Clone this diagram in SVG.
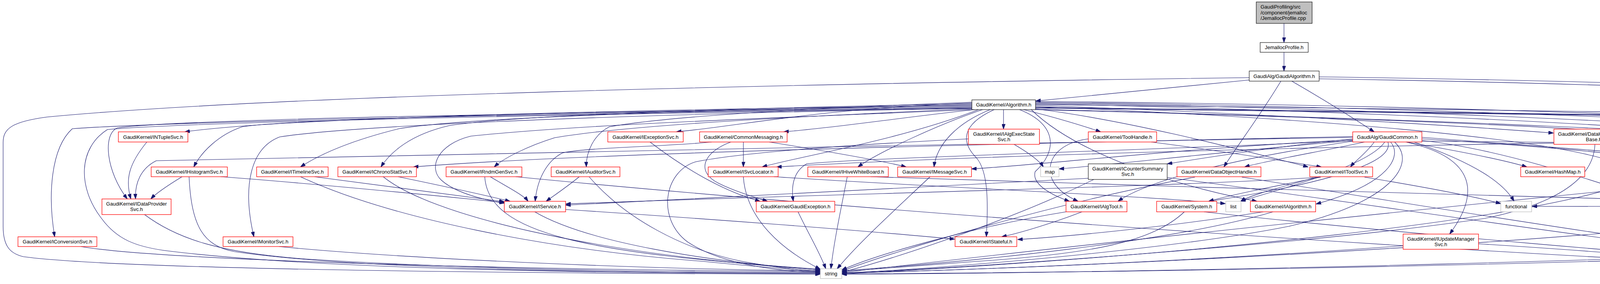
<svg xmlns="http://www.w3.org/2000/svg" width="5617" height="728" viewBox="0 0 5617 728">
<style>
.e{fill:none;stroke:#191970;stroke-width:1.1;marker-end:url(#a)}
.red{fill:#fff;stroke:#ff0000;stroke-width:1.3}
.blk{fill:#fff;stroke:#000;stroke-width:1.1}
.gry{fill:#fff;stroke:#bfbfbf;stroke-width:1.3}
.root{fill:#bfbfbf;stroke:#000;stroke-width:1.1}
text{font-family:"Liberation Sans",Arial,sans-serif;font-size:13px;fill:#000;text-anchor:middle}
text.l{text-anchor:start}
</style>
<defs>
<marker id="a" viewBox="0 0 13 9" refX="13" refY="4.5" markerWidth="13" markerHeight="9" markerUnits="userSpaceOnUse" orient="auto"><path d="M0,0 L13,4.5 L0,9 z" fill="#191970" stroke="#191970"/></marker>
</defs>
<rect width="5617" height="728" fill="#fff"/>
<g id="edges">
<path class="e" d="M3287,60 L3287,109"/>
<path class="e" d="M3287,134 L3287,182"/>
<path class="e" d="M3198,205 C3000,225 2800,245 2651,259"/>
<path class="e" d="M3307,208 C3380,250 3460,300 3518,338"/>
<path class="e" d="M3279,208 C3230,290 3170,370 3133,428"/>
<path class="e" d="M3377,197 C4000,205 5000,235 5472,257"/>
<path class="e" d="M3377,202 C4200,215 5100,250 5300,290 C5410,315 5433,330 5433,370 L5433,560 C5433,620 5380,650 5250,670 C5100,690 5000,698 4928,703"/>
<path class="e" d="M3198,199 C2000,215 700,245 120,300 C30,312 8,330 8,365 L8,580 C8,630 25,650 60,658 C300,690 1200,700 2100,703"/>
<path class="e" d="M2488,270 C1500,282 700,305 473,338"/>
<path class="e" d="M2488,272 C1500,285 750,305 620,325 C560,345 515,390 496,428"/>
<path class="e" d="M2488,274 C1400,290 450,305 300,328 C262,345 272,440 326,510"/>
<path class="e" d="M2488,276 C1400,292 420,312 185,330 C130,380 122,500 140,607"/>
<path class="e" d="M2488,278 C1600,292 900,322 716,351 C640,380 620,480 650,607"/>
<path class="e" d="M2488,277 C1400,295 500,312 275,332 C200,380 198,480 260,560 C300,615 350,632 420,642 C800,690 1500,700 2100,701"/>
<path class="e" d="M2488,268 C1800,283 1200,300 1021,330 C900,360 820,395 769,428"/>
<path class="e" d="M2488,266 C1800,278 1300,298 1150,322 C1050,345 1000,390 975,428"/>
<path class="e" d="M2488,279 C2000,300 1600,322 1420,353 C1350,375 1290,405 1265,428"/>
<path class="e" d="M2490,281 C2000,302 1500,318 1205,349 C1120,370 1095,430 1130,462 C1170,498 1250,514 1291,521"/>
<path class="e" d="M2488,264 C2100,278 1900,322 1731,338"/>
<path class="e" d="M2495,281 C2300,302 2150,326 2006,338"/>
<path class="e" d="M2488,262 C2000,280 1700,300 1560,325 C1520,345 1500,390 1501,428"/>
<path class="e" d="M2505,281 C2300,360 2050,400 1951,428"/>
<path class="e" d="M2515,281 C2400,320 2250,390 2196,428"/>
<path class="e" d="M2535,281 C2450,315 2398,370 2391,428"/>
<path class="e" d="M2569,281 L2569,331"/>
<path class="e" d="M2545,281 C2460,320 2460,365 2500,405 C2530,440 2530,520 2525,607"/>
<path class="e" d="M2610,281 C2710,320 2705,390 2650,440 C2640,475 2700,503 2738,516"/>
<path class="e" d="M2620,281 C2700,300 2780,325 2818,338"/>
<path class="e" d="M2651,279 C2900,310 3200,390 3349,428"/>
<path class="e" d="M2640,281 C2750,390 3000,475 3218,516"/>
<path class="e" d="M2651,270 C3200,290 3700,320 3977,341"/>
<path class="e" d="M2651,273 C3300,300 4000,350 4166,428"/>
<path class="e" d="M2651,266 C3300,280 4000,310 4338,338"/>
<path class="e" d="M2651,264 C3400,275 4200,310 4567,338"/>
<path class="e" d="M2651,262 C3500,272 4500,310 4801,338"/>
<path class="e" d="M2651,260 C3600,268 4700,305 4983,338"/>
<path class="e" d="M2651,268 C3600,280 4900,290 5100,320 C5160,332 5172,352 5150,372 C5110,410 4800,424 4634,435"/>
<path class="e" d="M2651,275 C3600,287 4900,300 5140,320 C5200,340 5220,385 5205,430 C5180,510 5060,595 4979,612"/>
<path class="e" d="M2651,277 C3700,290 5100,300 5280,330 C5370,360 5382,400 5382,440 L5382,540 C5382,600 5330,640 5250,660 C5100,690 5000,697 4928,700"/>
<path class="e" d="M2651,280 C3500,302 4600,340 4750,380 C4830,410 4870,460 4884,516"/>
<path class="e" d="M2651,281 C3600,305 4300,335 4500,372 C4650,400 4670,450 4645,516"/>
<path class="e" d="M2651,276 C3700,292 5000,302 5220,322 C5270,335 5292,375 5278,420 C5250,500 5000,575 4691,614"/>
<path class="e" d="M3600,364 C3750,390 3850,410 3909,428"/>
<path class="e" d="M3620,364 C3780,420 3850,470 3876,516"/>
<path class="e" d="M3599,364 C3760,400 3800,480 3711,600"/>
<path class="e" d="M3463,356 C3300,372 3100,402 2988,420"/>
<path class="e" d="M3493,364 C3400,385 3250,410 3186,428"/>
<path class="e" d="M3518,364 C3500,390 3470,412 3457,428"/>
<path class="e" d="M3463,362 C3200,400 2950,455 2862,516"/>
<path class="e" d="M3463,358 C3000,382 2700,420 2487,433"/>
<path class="e" d="M3463,360 C3100,392 2850,422 2711,433"/>
<path class="e" d="M3463,350 C2500,370 1500,392 1058,428"/>
<path class="e" d="M3463,352 C2500,372 1000,392 400,412 C360,432 345,470 347,510"/>
<path class="e" d="M3463,361 C2800,390 2200,405 2065,420 C2030,440 2025,480 2031,516"/>
<path class="e" d="M3560,364 C3590,400 3560,470 3369,523"/>
<path class="e" d="M3553,364 C3575,430 3300,485 3094,516"/>
<path class="e" d="M3545,364 C3500,430 3250,492 3176,516"/>
<path class="e" d="M3570,364 C3630,420 3560,520 3300,580 C3000,640 2400,690 2155,700"/>
<path class="e" d="M3640,360 C4000,400 4400,600 4868,702"/>
<path class="e" d="M3640,352 C4000,380 4350,402 4466,428"/>
<path class="e" d="M3640,356 C4000,378 4250,402 4333,428"/>
<path class="e" d="M3640,362 C4300,366 4990,378 5020,420 C5040,480 4990,570 4960,607"/>
<path class="e" d="M376,364 C330,420 320,460 335,510"/>
<path class="e" d="M466,453 C430,475 400,495 386,510"/>
<path class="e" d="M484,453 C490,580 520,630 600,645 C900,690 1600,700 2100,700"/>
<path class="e" d="M565,453 C800,470 1100,500 1291,519"/>
<path class="e" d="M370,550 C450,610 560,650 800,665 C1200,690 1700,698 2100,698"/>
<path class="e" d="M207,632 C400,665 1200,690 2100,696"/>
<path class="e" d="M714,632 C1000,660 1600,690 2100,694"/>
<path class="e" d="M805,453 C1000,480 1200,505 1291,517"/>
<path class="e" d="M769,453 C1000,560 1400,640 1800,670 C1950,685 2050,692 2100,695"/>
<path class="e" d="M1019,453 C1150,480 1260,505 1306,516"/>
<path class="e" d="M981,453 C1100,550 1500,650 2100,692"/>
<path class="e" d="M1255,453 C1300,480 1340,500 1352,516"/>
<path class="e" d="M1241,453 C1250,600 1500,650 2100,690"/>
<path class="e" d="M1320,453 C2000,520 3500,640 4868,697"/>
<path class="e" d="M1483,453 C1450,480 1420,500 1398,516"/>
<path class="e" d="M1508,453 C1600,560 1750,640 1900,670 C2000,688 2060,694 2100,697"/>
<path class="e" d="M1664,364 C1750,430 1850,490 1946,516"/>
<path class="e" d="M1903,364 L1903,428"/>
<path class="e" d="M1969,364 C2100,385 2250,410 2320,428"/>
<path class="e" d="M1871,364 C1800,390 1780,440 1840,470 C1880,490 1930,505 1965,516"/>
<path class="e" d="M1822,364 C1700,376 1500,378 1440,392 C1400,412 1375,460 1370,516"/>
<path class="e" d="M1903,453 C1910,560 2000,640 2100,690"/>
<path class="e" d="M1981,453 C2400,480 2900,500 3137,522"/>
<path class="e" d="M1448,537 C1800,560 2200,590 2444,613"/>
<path class="e" d="M1369,543 C1500,620 1800,670 2100,692"/>
<path class="e" d="M3381,454 C3000,480 2000,500 1448,523"/>
<path class="e" d="M2043,543 C2070,600 2100,650 2114,689"/>
<path class="e" d="M2169,453 C2150,550 2135,620 2127,689"/>
<path class="e" d="M2229,453 C3000,480 4000,505 4564,522"/>
<path class="e" d="M2381,453 C2300,530 2200,620 2143,689"/>
<path class="e" d="M2596,370 C2630,390 2660,410 2671,428"/>
<path class="e" d="M2479,356 C2200,370 1900,390 1780,415 C1700,440 1680,560 1760,620 C1850,680 2000,695 2100,699"/>
<path class="e" d="M2770,543 C2700,570 2610,598 2564,607"/>
<path class="e" d="M2729,543 C2500,580 2250,650 2155,692"/>
<path class="e" d="M2786,356 C2720,365 2680,400 2690,450 C2700,485 2735,505 2760,516"/>
<path class="e" d="M2947,364 C3150,390 3300,415 3383,428"/>
<path class="e" d="M2786,457 C2400,480 1800,505 1448,526"/>
<path class="e" d="M2800,460 C2600,560 2300,660 2155,698"/>
<path class="e" d="M2988,455 C3500,520 4300,650 4868,700"/>
<path class="e" d="M3059,454 C2700,520 2300,640 2155,695"/>
<path class="e" d="M3179,454 C3600,520 4300,640 4868,698"/>
<path class="e" d="M3381,454 C3250,480 3150,500 3094,516"/>
<path class="e" d="M3370,454 C3280,480 3200,500 3176,516"/>
<path class="e" d="M3493,454 C3650,480 3780,505 3842,522"/>
<path class="e" d="M3032,543 C2950,620 2800,650 2500,670 C2300,685 2200,692 2155,696"/>
<path class="e" d="M3082,543 C3500,590 4300,660 4868,698"/>
<path class="e" d="M3234,543 C3000,580 2750,605 2605,614"/>
<path class="e" d="M3259,543 C3000,620 2500,670 2155,694"/>
<path class="e" d="M4111,370 C4150,395 4185,415 4202,428"/>
<path class="e" d="M4083,370 C4080,450 4000,520 3800,560 C3400,620 2600,680 2155,700"/>
<path class="e" d="M4182,362 C4250,380 4310,410 4333,430"/>
<path class="e" d="M4182,370 C4500,385 4690,420 4664,516"/>
<path class="e" d="M4276,453 C4400,475 4520,500 4595,516"/>
<path class="e" d="M4205,453 C4000,560 3000,660 2155,702"/>
<path class="e" d="M4311,450 C4500,470 4700,500 4820,522"/>
<path class="e" d="M4402,364 C4395,390 4383,410 4377,428"/>
<path class="e" d="M4308,362 C3500,372 2500,398 1988,428"/>
<path class="e" d="M4503,360 C4800,365 4990,375 5005,410 C5020,460 4995,510 4979,526"/>
<path class="e" d="M4503,362 C4800,370 5080,380 5098,420 C5110,480 5050,590 4979,616"/>
<path class="e" d="M4503,364 C4800,375 5040,390 5051,436 C5060,520 5000,650 4928,695"/>
<path class="e" d="M4470,364 C4700,400 4770,500 4687,607"/>
<path class="e" d="M4475,454 C4000,500 3000,600 2155,699"/>
<path class="e" d="M4533,454 C4540,580 4700,680 4868,701"/>
<path class="e" d="M4652,543 L4659,607"/>
<path class="e" d="M4564,530 C4300,528 4000,528 3922,529"/>
<path class="e" d="M4604,543 C4300,600 3000,680 2155,700"/>
<path class="e" d="M4898,543 L4898,607"/>
<path class="e" d="M4873,543 C4800,600 4700,643 4400,660 C3500,690 2600,700 2155,702"/>
<path class="e" d="M4898,632 L4898,689"/>
<path class="e" d="M4850,632 C4500,660 3000,700 2155,703"/>
<path class="e" d="M3592,630 C3200,660 2600,690 2155,700"/>
<path class="e" d="M3785,625 C4200,650 4600,690 4868,698"/>
</g>
<g id="n_root"><rect class="root" x="3216" y="5" width="143" height="55"/><text class="l" x="3227" y="22">GaudiProfiling/src</text><text class="l" x="3227" y="36.5">/component/jemalloc</text><text class="l" x="3227" y="51">/JemallocProfile.cpp</text></g>
<g id="n_jph"><rect class="blk" x="3226" y="109" width="123" height="25"/><text x="3287.5" y="126">JemallocProfile.h</text></g>
<g id="n_galgm"><rect class="blk" x="3198" y="182" width="179" height="26"/><text x="3287.5" y="199.5">GaudiAlg/GaudiAlgorithm.h</text></g>
<g id="n_algorithm"><rect class="blk" x="2488" y="256" width="163" height="25"/><text x="2569.5" y="273">GaudiKernel/Algorithm.h</text></g>
<g id="n_gaudialg"><rect class="blk" x="5472" y="256" width="143" height="25"/><text x="5543.5" y="273">GaudiAlg/GaudiAlg.h</text></g>
<g id="n_intuple"><rect class="red" x="303" y="338" width="178" height="26"/><text x="392" y="355.5">GaudiKernel/INTupleSvc.h</text></g>
<g id="n_iexception"><rect class="red" x="1556" y="338" width="193" height="26"/><text x="1652.5" y="355.5">GaudiKernel/IExceptionSvc.h</text></g>
<g id="n_commonmsg"><rect class="red" x="1791" y="338" width="224" height="26"/><text x="1903" y="355.5">GaudiKernel/CommonMessaging.h</text></g>
<g id="n_ialgexec"><rect class="red" x="2479" y="331" width="182" height="39"/><text x="2570" y="348">GaudiKernel/IAlgExecState</text><text x="2570" y="362">Svc.h</text></g>
<g id="n_toolhandle"><rect class="red" x="2786" y="338" width="175" height="26"/><text x="2873.5" y="355.5">GaudiKernel/ToolHandle.h</text></g>
<g id="n_gaudicommon"><rect class="red" x="3463" y="338" width="177" height="26"/><text x="3551.5" y="355.5">GaudiAlg/GaudiCommon.h</text></g>
<g id="n_dhhb"><rect class="red" x="3978" y="331" width="204" height="39"/><text x="4080" y="348">GaudiKernel/DataHandleHolder</text><text x="4080" y="362">Base.h</text></g>
<g id="n_propholder"><rect class="red" x="4308" y="338" width="195" height="26"/><text x="4405.5" y="355.5">GaudiKernel/PropertyHolder.h</text></g>
<g id="n_tlc"><rect class="red" x="4527" y="338" width="226" height="26"/><text x="4640" y="355.5">GaudiKernel/ThreadLocalContext.h</text></g>
<g id="n_plugin"><rect class="red" x="4777" y="338" width="151" height="26"/><text x="4852.5" y="355.5">Gaudi/PluginService.h</text></g>
<g id="n_eventctx"><rect class="red" x="4952" y="338" width="189" height="26"/><text x="5046.5" y="355.5">GaudiKernel/EventContext.h</text></g>
<g id="n_ihist"><rect class="red" x="387" y="428" width="195" height="25"/><text x="484.5" y="445">GaudiKernel/IHistogramSvc.h</text></g>
<g id="n_itimeline"><rect class="red" x="657" y="428" width="183" height="25"/><text x="748.5" y="445">GaudiKernel/ITimelineSvc.h</text></g>
<g id="n_ichrono"><rect class="red" x="865" y="428" width="201" height="25"/><text x="965.5" y="445">GaudiKernel/IChronoStatSvc.h</text></g>
<g id="n_irndm"><rect class="red" x="1142" y="428" width="194" height="25"/><text x="1239" y="445">GaudiKernel/IRndmGenSvc.h</text></g>
<g id="n_iauditor"><rect class="red" x="1411" y="428" width="176" height="25"/><text x="1499" y="445">GaudiKernel/IAuditorSvc.h</text></g>
<g id="n_isvcloc"><rect class="red" x="1813" y="428" width="179" height="25"/><text x="1902.5" y="445">GaudiKernel/ISvcLocator.h</text></g>
<g id="n_ihive"><rect class="red" x="2068" y="428" width="206" height="25"/><text x="2171" y="445">GaudiKernel/IHiveWhiteBoard.h</text></g>
<g id="n_imsg"><rect class="red" x="2298" y="428" width="189" height="25"/><text x="2392.5" y="445">GaudiKernel/IMessageSvc.h</text></g>
<g id="n_map"><rect class="gry" x="2664" y="428" width="47" height="25"/><text x="2687.5" y="445">map</text></g>
<g id="n_icounter"><rect class="blk" x="2786" y="420" width="202" height="40"/><text x="2887" y="437">GaudiKernel/ICounterSummary</text><text x="2887" y="451">Svc.h</text></g>
<g id="n_doh"><rect class="red" x="3013" y="428" width="215" height="25"/><text x="3120.5" y="445">GaudiKernel/DataObjectHandle.h</text></g>
<g id="n_itoolsvc"><rect class="red" x="3353" y="428" width="161" height="25"/><text x="3433.5" y="445">GaudiKernel/IToolSvc.h</text></g>
<g id="n_hashmap"><rect class="red" x="3893" y="428" width="164" height="25"/><text x="3975" y="445">GaudiKernel/HashMap.h</text></g>
<g id="n_datahandle"><rect class="red" x="4134" y="428" width="177" height="25"/><text x="4222.5" y="445">GaudiKernel/DataHandle.h</text></g>
<g id="n_algorithmstd"><rect class="gry" x="4335" y="428" width="75" height="25"/><text x="4372.5" y="445">algorithm</text></g>
<g id="n_ialgctx"><rect class="red" x="4434" y="428" width="200" height="25"/><text x="4534" y="445">GaudiKernel/IAlgContextSvc.h</text></g>
<g id="n_idataprov"><rect class="red" x="261" y="510" width="177" height="40"/><text x="349.5" y="527">GaudiKernel/IDataProvider</text><text x="349.5" y="541">Svc.h</text></g>
<g id="n_iservice"><rect class="red" x="1291" y="516" width="157" height="27"/><text x="1369.5" y="534">GaudiKernel/IService.h</text></g>
<g id="n_gexc"><rect class="red" x="1936" y="516" width="201" height="27"/><text x="2036.5" y="534">GaudiKernel/GaudiException.h</text></g>
<g id="n_ialgtool"><rect class="red" x="2729" y="516" width="156" height="27"/><text x="2807" y="534">GaudiKernel/IAlgTool.h</text></g>
<g id="n_system"><rect class="red" x="2961" y="516" width="154" height="27"/><text x="3038" y="534">GaudiKernel/System.h</text></g>
<g id="n_list"><rect class="gry" x="3138" y="516" width="39" height="27"/><text x="3157.5" y="534">list</text></g>
<g id="n_ialgorithm"><rect class="red" x="3201" y="516" width="167" height="27"/><text x="3284.5" y="534">GaudiKernel/IAlgorithm.h</text></g>
<g id="n_functional"><rect class="gry" x="3842" y="516" width="79" height="27"/><text x="3881.5" y="534">functional</text></g>
<g id="n_dataobjid"><rect class="red" x="4564" y="516" width="171" height="27"/><text x="4649.5" y="534">GaudiKernel/DataObjID.h</text></g>
<g id="n_property"><rect class="red" x="4820" y="516" width="159" height="27"/><text x="4899.5" y="534">GaudiKernel/Property.h</text></g>
<g id="n_iconv"><rect class="red" x="46" y="607" width="202" height="25"/><text x="147" y="624">GaudiKernel/IConversionSvc.h</text></g>
<g id="n_imonitor"><rect class="red" x="571" y="607" width="179" height="25"/><text x="660.5" y="624">GaudiKernel/IMonitorSvc.h</text></g>
<g id="n_istateful"><rect class="red" x="2445" y="607" width="158" height="25"/><text x="2524" y="624">GaudiKernel/IStateful.h</text></g>
<g id="n_iupdate"><rect class="red" x="3592" y="600" width="193" height="39"/><text x="3688.5" y="617">GaudiKernel/IUpdateManager</text><text x="3688.5" y="631">Svc.h</text></g>
<g id="n_mutex"><rect class="gry" x="4633" y="607" width="58" height="25"/><text x="4662" y="624">mutex</text></g>
<g id="n_iproperty"><rect class="red" x="4817" y="607" width="162" height="25"/><text x="4898" y="624">GaudiKernel/IProperty.h</text></g>
<g id="n_string"><rect class="gry" x="2100" y="689" width="55" height="25"/><text x="2127.5" y="706">string</text></g>
<g id="n_vector"><rect class="gry" x="4868" y="689" width="60" height="25"/><text x="4898" y="706">vector</text></g>
</svg>
